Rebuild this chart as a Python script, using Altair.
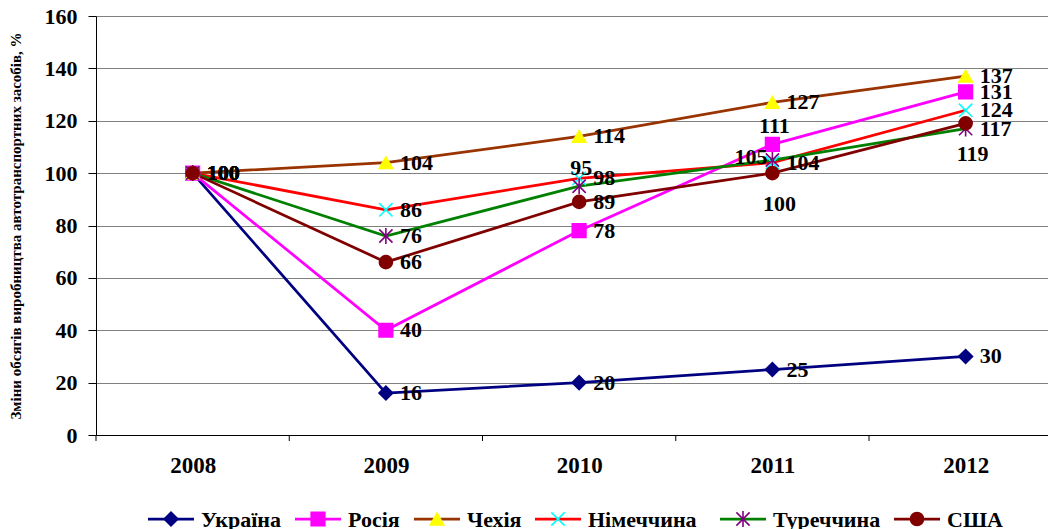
import altair as alt
import pandas as pd

# ---------------- data ----------------
years = [2008, 2009, 2010, 2011, 2012]
series = ["Україна", "Росія", "Чехія", "Німеччина", "Туреччина", "США"]
ukraine = [100, 16, 20, 25, 30]
russia = [100, 40, 78, 111, 131]
czech = [100, 104, 114, 127, 137]
germany = [100, 86, 98, 104, 124]
turkey = [100, 76, 95, 105, 117]
usa = [100, 66, 89, 100, 119]
y_ticks = [0, 20, 40, 60, 80, 100, 120, 140, 160]
y_title = "Зміни обсягів виробництва автотранспортних засобів, %"

values = [ukraine, russia, czech, germany, turkey, usa]

# ---------------- styles ----------------
FONT = "Liberation Serif"
line_colors = ["#000080", "#FF00FF", "#993300", "#FF0000", "#008000", "#800000"]
marker_fill = ["#000080", "#FF00FF", "#FFFF00", "#00FFFF", "#800080", "#800000"]
marker_stroke = ["#000080", "#FF00FF", "#FFFF00", "#00FFFF", "#800080", "#800000"]
X_PATH = "M-1,-1L1,1M1,-1L-1,1"
AST_PATH = "M-1,-1L1,1M1,-1L-1,1M0,-1.2L0,1.2"
marker_shapes = ["diamond", "square", "triangle-up", X_PATH, AST_PATH, "circle"]
marker_sizes = [190, 170, 250, 200, 200, 210]
# label placement: r = right, a = above, b = below, l = left
label_pos = {
    "Україна": ["r", "r", "r", "r", "r"],
    "Росія": ["r", "r", "r", "a", "r"],
    "Чехія": ["r", "r", "r", "r", "r"],
    "Німеччина": ["r", "r", "r", "r", "r"],
    "Туреччина": ["r", "r", "a", "l", "r"],
    "США": ["r", "r", "r", "b", "b"],
}
W, H = 952, 419
STEP = 193.25  # px per year
X0 = 2007.5
legend_px = [75, 222, 341, 462, 647, 821]  # legend marker centres (px from plot left)
LEG_Y = 503

rows = []
for s, vals in zip(series, values):
    for yr, v, p in zip(years, vals, label_pos[s]):
        rows.append({"series": s, "year": yr, "value": v, "pos": p})
df = pd.DataFrame(rows)

bounds = pd.DataFrame({"b": [y - 0.5 for y in years]})

leg = pd.DataFrame({
    "series": series,
    "cx": [X0 + p / STEP for p in legend_px],
})
leg["x1"] = leg["cx"] - 23 / STEP
leg["x2"] = leg["cx"] + 23 / STEP
leg["tx"] = leg["cx"] + 30 / STEP

xs = alt.Scale(domain=[X0, X0 + W / STEP], nice=False, zero=False)
ys = alt.Scale(domain=[0, 160], nice=False, zero=False)

AX_X = alt.Axis(values=years, format="d", tickSize=0, labelPadding=19,
                labelFont=FONT, labelFontSize=23, labelFontWeight="bold",
                labelColor="black", grid=False, title=None,
                domainColor="black", domainWidth=1)
AX_Y = alt.Axis(values=y_ticks, grid=True, gridColor="#808080", gridWidth=1,
                tickSize=8, tickColor="black", labelPadding=11,
                labelFont=FONT, labelFontSize=22, labelFontWeight="bold",
                labelColor="black", domainColor="black", domainWidth=1,
                title=y_title, titleFont=FONT, titleFontSize=15,
                titleFontWeight="bold", titleColor="black",
                titleX=-81, titleY=H / 2, titleAlign="center",
                titleBaseline="middle")


def X_f(field):
    return alt.X(field, scale=xs, axis=AX_X)


Y_main = alt.Y("value:Q", scale=ys, axis=AX_Y)

color_s = alt.Color("series:N", scale=alt.Scale(domain=series, range=line_colors), legend=None)
fill_s = alt.Fill("series:N", scale=alt.Scale(domain=series, range=marker_fill), legend=None)
stroke_s = alt.Stroke("series:N", scale=alt.Scale(domain=series, range=marker_stroke), legend=None)
shape_s = alt.Shape("series:N", scale=alt.Scale(domain=series, range=marker_shapes), legend=None)
size_s = alt.Size("series:N", scale=alt.Scale(domain=series, range=marker_sizes), legend=None)

base = alt.Chart(df)

lines = base.mark_line(strokeWidth=2.75).encode(x=X_f("year:Q"), y=Y_main, color=color_s)
points = base.mark_point(filled=True, opacity=1, strokeWidth=1.6).encode(
    x=X_f("year:Q"), y=Y_main, fill=fill_s, stroke=stroke_s, shape=shape_s, size=size_s
)

txt = dict(font=FONT, fontSize=22, fontWeight="bold", color="black", baseline="middle")
lab_r = base.transform_filter("datum.pos == 'r'").mark_text(align="left", dx=14, **txt).encode(
    x=X_f("year:Q"), y=Y_main, text="value:Q")
lab_a = base.transform_filter("datum.pos == 'a'").mark_text(align="center", dx=2, dy=-18, **txt).encode(
    x=X_f("year:Q"), y=Y_main, text="value:Q")
lab_b = base.transform_filter("datum.pos == 'b'").mark_text(align="center", dx=7, dy=31, **txt).encode(
    x=X_f("year:Q"), y=Y_main, text="value:Q")
lab_l = base.transform_filter("datum.pos == 'l'").mark_text(align="right", dx=-5, dy=-3, **txt).encode(
    x=X_f("year:Q"), y=Y_main, text="value:Q")

ticks = alt.Chart(bounds).mark_rule(color="black", strokeWidth=1).encode(
    x=X_f("b:Q"), y=alt.value(H), y2=alt.value(H + 6))

legb = alt.Chart(leg)
leg_line = legb.mark_rule(strokeWidth=2.75).encode(
    x=X_f("x1:Q"), x2="x2:Q", y=alt.value(LEG_Y), color=color_s)
leg_pt = legb.mark_point(filled=True, opacity=1, strokeWidth=1.6).encode(
    x=X_f("cx:Q"), y=alt.value(LEG_Y), fill=fill_s, stroke=stroke_s, shape=shape_s, size=size_s)
leg_txt = legb.mark_text(align="left", font=FONT, fontSize=22, fontWeight="bold",
                         color="black", baseline="middle").encode(
    x=X_f("tx:Q"), y=alt.value(LEG_Y + 1), text="series:N")

chart = alt.layer(
    lines, points, lab_r, lab_a, lab_b, lab_l, ticks, leg_line, leg_pt, leg_txt
).properties(
    width=W, height=H,
    autosize=alt.AutoSizeParams(type="none"),
    padding={"left": 88, "top": 8, "right": 0, "bottom": 94},
    background="white",
).configure_view(stroke=None)

chart.save("out.html", embed_options={"renderer": "svg", "actions": False})
